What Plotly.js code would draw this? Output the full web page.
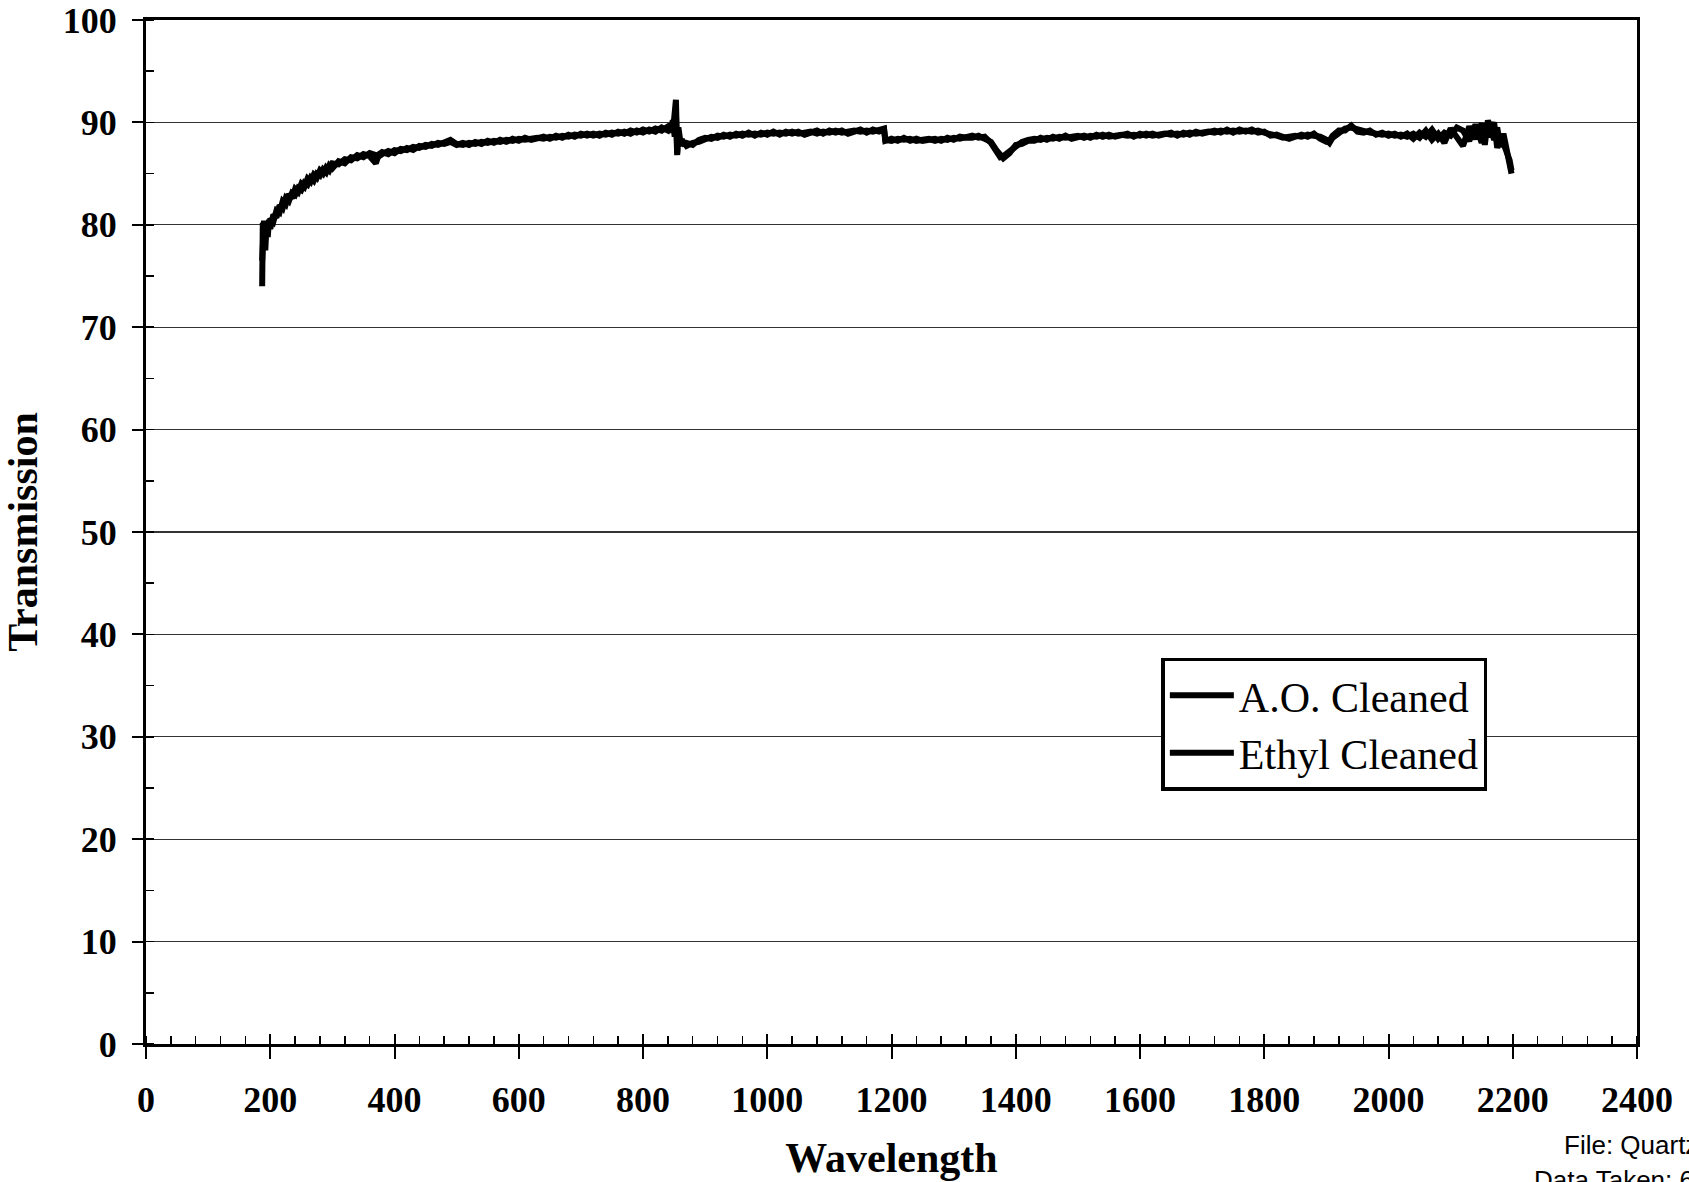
<!DOCTYPE html>
<html>
<head>
<meta charset="utf-8">
<script src="https://cdn.plot.ly/plotly-3.0.1.min.js"></script>
<style>html,body{margin:0;padding:0;background:#fff;overflow:hidden;}#chart{width:1689px;height:1182px;}</style>
</head>
<body>
<div id="chart"></div>
<script>
// Wavelength (nm)
const wavelength = [
  187,188,189,190,192,194,196,198,200,205,
  210,215,220,225,230,235,240,245,250,255,
  260,265,270,275,280,285,290,295,300,310,
  320,330,340,350,360,370,375,380,390,400,
  410,420,430,440,450,460,470,480,490,500,
  510,520,530,540,550,560,570,580,590,600,
  610,620,630,640,650,660,670,680,690,700,
  710,720,730,740,750,760,770,780,790,800,
  810,820,830,840,845,848,851,853,855,857,
  860,865,870,880,890,900,910,920,930,940,
  950,960,970,980,990,1000,1010,1020,1030,1040,
  1050,1060,1070,1080,1090,1100,1110,1120,1130,1140,
  1150,1160,1170,1180,1188,1190,1200,1210,1220,1230,
  1240,1250,1260,1270,1280,1290,1300,1310,1320,1330,
  1340,1350,1360,1370,1375,1380,1390,1400,1410,1420,
  1430,1440,1450,1460,1470,1480,1490,1500,1510,1520,
  1530,1540,1550,1560,1570,1580,1590,1600,1610,1620,
  1630,1640,1650,1660,1670,1680,1690,1700,1710,1720,
  1730,1740,1750,1760,1770,1780,1790,1800,1810,1820,
  1830,1840,1850,1860,1870,1880,1890,1900,1905,1910,
  1920,1930,1940,1950,1960,1970,1980,1990,2000,2010,
  2020,2030,2040,2050,2060,2070,2080,2090,2100,2110,
  2120,2130,2140,2150,2155,2160,2170,2175,2180,2185,
  2190,2195,2198
];

// Transmission (%) – A.O. Cleaned
const aoCleaned = [
  74.0,80.2,77.0,79.8,77.5,80.0,78.8,80.5,79.6,81.0,
  80.7,81.9,81.6,82.6,82.3,83.1,82.9,83.6,83.4,84.1,
  83.9,84.6,84.3,85.0,84.8,85.4,85.1,85.8,85.5,86.2,
  86.0,86.6,86.5,86.9,86.7,86.0,86.9,87.1,86.9,87.3,
  87.2,87.5,87.3,87.7,87.6,87.9,87.8,88.1,88.3,87.9,
  87.8,88.0,87.9,88.1,88.0,88.2,88.1,88.3,88.2,88.4,
  88.3,88.4,88.5,88.4,88.6,88.5,88.7,88.6,88.8,88.7,
  88.9,88.7,88.9,88.8,89.0,88.9,89.1,88.9,89.2,89.0,
  89.3,89.1,89.5,89.2,89.8,89.0,91.0,92.2,87.0,89.5,
  88.2,87.9,88.0,87.8,88.3,88.5,88.4,88.7,88.6,88.8,
  88.7,88.9,88.8,88.9,88.8,89.0,88.9,89.0,88.9,89.1,
  88.9,89.0,89.1,88.9,89.1,89.0,89.2,89.0,89.1,89.2,
  89.1,89.2,89.1,89.3,89.4,88.3,88.2,88.4,88.3,88.4,
  88.2,88.3,88.4,88.2,88.4,88.3,88.5,88.4,88.6,88.7,
  88.5,88.6,88.0,87.0,86.6,86.7,87.2,87.7,88.1,88.3,
  88.4,88.3,88.5,88.4,88.6,88.5,88.6,88.7,88.5,88.7,
  88.6,88.8,88.6,88.7,88.8,88.7,88.8,88.7,88.9,88.7,
  88.8,88.9,88.8,88.9,88.8,89.0,88.9,89.0,89.1,89.0,
  89.2,89.1,89.2,89.1,89.2,89.1,89.2,89.0,88.9,88.7,
  88.5,88.6,88.7,88.6,88.8,88.7,88.6,88.3,88.0,88.5,
  89.0,89.4,89.5,89.3,89.2,89.0,88.9,88.8,88.9,88.7,
  88.8,88.6,88.9,88.5,89.2,88.3,88.9,88.0,89.4,88.6,
  87.7,89.6,88.4,89.9,87.8,90.2,88.3,89.5,87.6,88.9,
  87.5,86.0,85.0
];

// Transmission (%) – Ethyl Cleaned
const ethylCleaned = [
  76.5,79.4,78.3,80.4,78.6,79.2,80.1,79.7,80.6,80.3,
  81.4,81.2,82.3,82.0,83.0,82.6,83.5,83.2,84.0,83.7,
  84.5,84.2,84.9,84.6,85.3,85.0,85.6,85.3,86.0,85.9,
  86.4,86.3,86.8,86.6,87.0,86.8,86.7,86.9,87.2,87.0,
  87.4,87.3,87.6,87.5,87.8,87.7,88.0,87.9,88.1,87.8,
  88.0,87.8,88.1,87.9,88.2,88.0,88.3,88.1,88.4,88.2,
  88.5,88.3,88.4,88.6,88.4,88.7,88.5,88.8,88.6,88.9,
  88.7,88.9,88.7,89.0,88.8,89.1,88.9,89.2,89.0,89.3,
  89.1,89.4,89.2,89.6,89.3,90.2,88.6,90.8,86.8,88.9,
  87.9,88.1,87.7,88.0,88.1,88.3,88.6,88.5,88.8,88.6,
  88.9,88.7,89.0,88.7,89.0,88.8,89.1,88.8,89.1,88.9,
  89.1,88.8,89.0,89.2,88.9,89.2,89.0,89.2,88.9,89.1,
  89.3,89.0,89.3,89.1,89.3,88.2,88.4,88.2,88.5,88.2,
  88.4,88.2,88.3,88.4,88.2,88.5,88.3,88.6,88.5,88.5,
  88.7,88.4,88.1,87.2,86.8,86.5,87.0,87.8,87.9,88.2,
  88.2,88.5,88.3,88.6,88.4,88.7,88.4,88.5,88.7,88.5,
  88.8,88.6,88.8,88.6,88.7,88.9,88.6,88.9,88.7,88.9,
  88.7,88.8,89.0,88.7,89.0,88.8,89.1,88.9,89.0,89.2,
  89.0,89.3,89.0,89.3,89.1,89.3,89.0,89.1,88.7,88.8,
  88.6,88.4,88.6,88.8,88.6,88.9,88.4,88.1,88.2,88.7,
  89.2,89.2,89.7,89.1,89.0,89.2,88.8,89.0,88.7,88.9,
  88.6,88.9,88.4,89.0,88.6,89.3,88.4,89.0,88.7,89.5,
  89.2,88.2,89.8,88.0,89.4,88.6,90.0,87.5,88.8,88.0,
  87.0,86.3,85.3
];

const seriesNames = ['A.O. Cleaned', 'Ethyl Cleaned'];
const xTickVals = [0,200,400,600,800,1000,1200,1400,1600,1800,2000,2200,2400];
const yTickVals = [0,10,20,30,40,50,60,70,80,90,100];
const footerLines = ['File: Quartz', 'Data Taken: 6/'];

const serif = 'Liberation Serif, Times New Roman, serif';

const traces = [
  {x: wavelength, y: aoCleaned, name: seriesNames[0], type: 'scatter', mode: 'lines',
   line: {color: '#000', width: 6}},
  {x: wavelength, y: ethylCleaned, name: seriesNames[1], type: 'scatter', mode: 'lines',
   line: {color: '#000', width: 6}},
  // overlay axis for the inner half of the major x ticks
  {x: [0], y: [0], xaxis: 'x2', yaxis: 'y', mode: 'none', showlegend: false, hoverinfo: 'skip'}
];

const layout = {
  width: 1689, height: 1182,
  margin: {l: 146, r: 52, t: 20, b: 138},
  paper_bgcolor: '#fff', plot_bgcolor: '#fff',
  font: {family: serif, color: '#000'},
  showlegend: true,
  xaxis: {
    range: [0, 2400], tickmode: 'array', tickvals: xTickVals,
    ticks: 'outside', ticklen: 12, tickwidth: 2, tickcolor: '#000',
    showline: true, linewidth: 3, linecolor: '#000', mirror: true,
    showgrid: false, zeroline: false,
    tickfont: {family: serif, size: 36, color: '#000', weight: 'bold'},
    ticklabelstandoff: 10,
    minor: {dtick: 40, tick0: 0, ticks: 'inside', ticklen: 8, tickwidth: 1.5, tickcolor: '#000', showgrid: false},
    title: {text: 'Wavelength', font: {family: serif, size: 42, weight: 'bold', color: '#000'}, standoff: 24}
  },
  xaxis2: {
    range: [0, 2400], overlaying: 'x', side: 'bottom', tickmode: 'array', tickvals: xTickVals,
    ticks: 'inside', ticklen: 10, tickwidth: 2, tickcolor: '#000',
    showticklabels: false, showgrid: false, showline: false, zeroline: false
  },
  yaxis: {
    range: [0, 100], tickmode: 'array', tickvals: yTickVals,
    ticks: 'outside', ticklen: 11, tickwidth: 2, tickcolor: '#000',
    showline: true, linewidth: 3, linecolor: '#000', mirror: true,
    showgrid: true, gridcolor: '#333', gridwidth: 1.3, zeroline: false,
    tickfont: {family: serif, size: 36, color: '#000', weight: 'bold'},
    ticklabelstandoff: 8,
    minor: {dtick: 5, tick0: 0, ticks: 'inside', ticklen: 8, tickwidth: 1.5, tickcolor: '#000', showgrid: false},
    title: {text: 'Transmission', font: {family: serif, size: 42, weight: 'bold', color: '#000'}, standoff: 18}
  },
  legend: {
    x: 0.681, y: 0.377, xanchor: 'left', yanchor: 'top',
    bgcolor: '#fff', bordercolor: '#000', borderwidth: 3.5,
    font: {family: serif, size: 42, color: '#000'},
    itemwidth: 64, tracegroupgap: 0
  },
  annotations: [
    {text: footerLines[0], xref: 'paper', yref: 'paper', x: 0.9497, y: -0.0986,
     xanchor: 'left', yanchor: 'middle', showarrow: false,
     font: {family: 'Liberation Sans, Arial, sans-serif', size: 26, color: '#000'}},
    {text: footerLines[1], xref: 'paper', yref: 'paper', x: 0.9296, y: -0.1328,
     xanchor: 'left', yanchor: 'middle', showarrow: false,
     font: {family: 'Liberation Sans, Arial, sans-serif', size: 26, color: '#000'}}
  ]
};

Plotly.newPlot('chart', traces, layout, {displayModeBar: false, staticPlot: true});
</script>
</body>
</html>
